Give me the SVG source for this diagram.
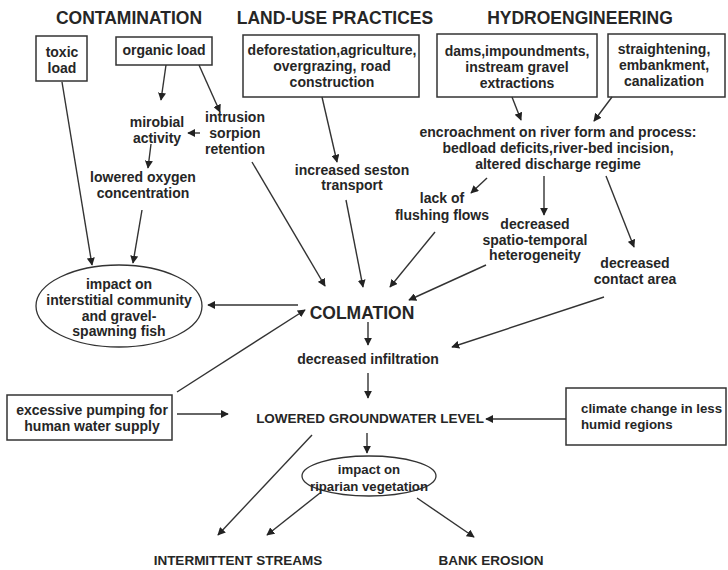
<svg xmlns="http://www.w3.org/2000/svg" width="728" height="570" viewBox="0 0 728 570">
<style>
text{font-family:"Liberation Sans",Arial,sans-serif;font-weight:bold;fill:#262626;text-anchor:middle}
.h{font-size:17.5px}
.t{font-size:14px}
.c{font-size:13.5px}
.box{fill:#fff;stroke:#333;stroke-width:1.5}
.ell{fill:#fff;stroke:#333;stroke-width:1.3}
#connectors line{stroke:#333;stroke-width:1.4;marker-end:url(#ah)}
</style>
<defs>
<marker id="ah" viewBox="0 0 10 10" refX="9" refY="5" markerWidth="8" markerHeight="8" markerUnits="userSpaceOnUse" orient="auto">
<path d="M0,0 L10,5 L0,10 z" fill="#222"/>
</marker>
</defs>
<rect width="728" height="570" fill="#fff"/>

<g id="headers">
<text class="h" x="129" y="24">CONTAMINATION</text>
<text class="h" x="335" y="24">LAND-USE PRACTICES</text>
<text class="h" x="580" y="24">HYDROENGINEERING</text>
</g>

<g id="toxic">
<rect class="box" x="36" y="36" width="51" height="45"/>
<text class="t" x="62" y="57">toxic</text>
<text class="t" x="62" y="73">load</text>
</g>
<g id="organic">
<rect class="box" x="116" y="37" width="96" height="28"/>
<text class="t" x="164" y="55">organic load</text>
</g>
<g id="deforestation">
<rect class="box" x="243" y="35" width="176" height="62"/>
<text class="t" x="332" y="55">deforestation,agriculture,</text>
<text class="t" x="332" y="71">overgrazing, road</text>
<text class="t" x="332" y="87">construction</text>
</g>
<g id="dams">
<rect class="box" x="437" y="34" width="160" height="63"/>
<text class="t" x="517" y="56">dams,impoundments,</text>
<text class="t" x="517" y="72">instream gravel</text>
<text class="t" x="517" y="88">extractions</text>
</g>
<g id="straightening">
<rect class="box" x="608" y="34" width="117" height="63"/>
<text class="t" x="664" y="54">straightening,</text>
<text class="t" x="664" y="70">embankment,</text>
<text class="t" x="664" y="86">canalization</text>
</g>

<g id="mirobial">
<text class="t" x="157" y="127">mirobial</text>
<text class="t" x="157" y="143">activity</text>
</g>
<g id="intrusion">
<text class="t" x="235" y="122">intrusion</text>
<text class="t" x="235" y="138">sorpion</text>
<text class="t" x="235" y="154">retention</text>
</g>
<g id="oxygen">
<text class="t" x="143" y="182">lowered oxygen</text>
<text class="t" x="143" y="198">concentration</text>
</g>
<g id="seston">
<text class="t" x="352" y="175">increased seston</text>
<text class="t" x="352" y="190">transport</text>
</g>
<g id="encroachment">
<text class="t" x="558" y="137">encroachment on river form and process:</text>
<text class="t" x="558" y="153">bedload deficits,river-bed incision,</text>
<text class="t" x="558" y="169">altered discharge regime</text>
</g>
<g id="flushing">
<text class="t" x="442" y="203">lack of</text>
<text class="t" x="442" y="220">flushing flows</text>
</g>
<g id="heterogeneity">
<text class="t" x="535" y="229">decreased</text>
<text class="t" x="535" y="245">spatio-temporal</text>
<text class="t" x="535" y="260">heterogeneity</text>
</g>
<g id="contact">
<text class="t" x="635" y="268">decreased</text>
<text class="t" x="635" y="284">contact area</text>
</g>

<g id="impact-interstitial">
<ellipse class="ell" cx="119" cy="306" rx="83" ry="41"/>
<text class="t" x="119" y="289">impact on</text>
<text class="t" x="119" y="305">interstitial community</text>
<text class="t" x="119" y="321">and gravel-</text>
<text class="t" x="119" y="336">spawning fish</text>
</g>
<g id="colmation">
<text x="362" y="319" style="font-size:17.5px">COLMATION</text>
</g>
<g id="infiltration">
<text class="t" x="368" y="364">decreased infiltration</text>
</g>
<g id="pumping">
<rect class="box" x="7" y="395" width="165" height="45"/>
<text class="t" x="92" y="415">excessive pumping for</text>
<text class="t" x="92" y="431">human water supply</text>
</g>
<g id="groundwater">
<text class="c" x="370" y="423">LOWERED GROUNDWATER LEVEL</text>
</g>
<g id="climate">
<rect class="box" x="566" y="388" width="160" height="57"/>
<text x="581" y="413" style="text-anchor:start;font-size:13.3px">climate change in less</text>
<text x="581" y="429" style="text-anchor:start;font-size:13.3px">humid regions</text>
</g>
<g id="riparian">
<ellipse class="ell" cx="369" cy="476" rx="67" ry="20"/>
<text x="369" y="474" style="font-size:13.2px">impact on</text>
<text x="369" y="491" style="font-size:13.2px">riparian vegetation</text>
</g>
<g id="intermittent">
<text class="c" x="238" y="565">INTERMITTENT STREAMS</text>
</g>
<g id="bank">
<text class="c" x="491" y="565">BANK EROSION</text>
</g>

<g id="connectors">
<line x1="166" y1="65" x2="161" y2="100"/>
<line x1="199" y1="65" x2="220" y2="112"/>
<line x1="200" y1="133" x2="188" y2="133"/>
<line x1="151" y1="144" x2="148" y2="168"/>
<line x1="62" y1="82" x2="92" y2="265"/>
<line x1="142" y1="210" x2="133" y2="263"/>
<line x1="252" y1="162" x2="325" y2="286"/>
<line x1="322" y1="97" x2="337" y2="162"/>
<line x1="346" y1="200" x2="363" y2="287"/>
<line x1="512" y1="97" x2="521" y2="120"/>
<line x1="612" y1="97" x2="594" y2="121"/>
<line x1="487" y1="178" x2="471" y2="193"/>
<line x1="435" y1="232" x2="390" y2="287"/>
<line x1="544" y1="176" x2="544" y2="215"/>
<line x1="486" y1="265" x2="409" y2="300"/>
<line x1="606" y1="176" x2="634" y2="247"/>
<line x1="604" y1="297" x2="452" y2="347"/>
<line x1="298" y1="305" x2="208" y2="305"/>
<line x1="177" y1="392" x2="305" y2="310"/>
<line x1="368" y1="322" x2="368" y2="345"/>
<line x1="368" y1="373" x2="368" y2="398"/>
<line x1="177" y1="414" x2="228" y2="414"/>
<line x1="566" y1="419" x2="486" y2="419"/>
<line x1="367" y1="433" x2="367" y2="453"/>
<line x1="312" y1="435" x2="218" y2="535"/>
<line x1="320" y1="493" x2="267" y2="535"/>
<line x1="417" y1="498" x2="474" y2="537"/>
</g>
</svg>
